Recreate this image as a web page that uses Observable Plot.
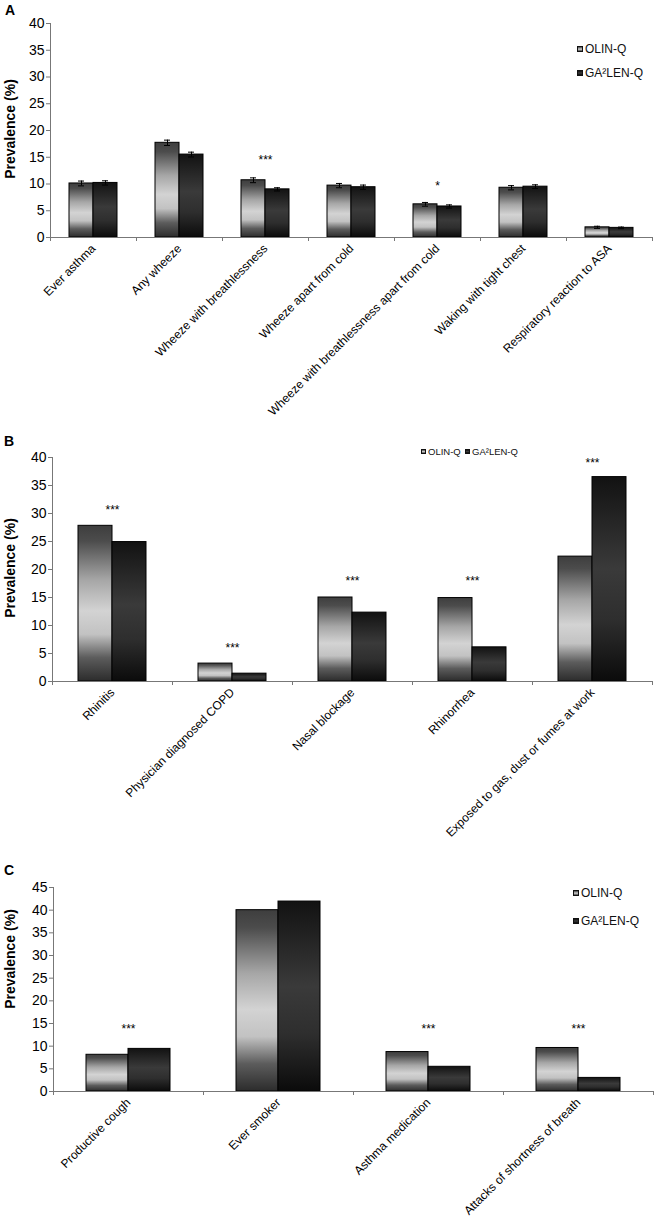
<!DOCTYPE html>
<html>
<head>
<meta charset="utf-8">
<script src="https://cdn.jsdelivr.net/npm/d3@7"></script>
<script src="https://cdn.jsdelivr.net/npm/@observablehq/plot@0.6"></script>
<style>
  html, body { margin: 0; padding: 0; background: #fff; }
  body { font-family: "Liberation Sans", Arial, sans-serif; }
  #page { position: relative; width: 654px; height: 1224px; overflow: hidden; }
  .panel { position: absolute; left: 0; }
  .letter { position: absolute; font-weight: bold; font-size: 14px; line-height: 1; }
  .ylab { position: absolute; font-weight: bold; font-size: 14px; line-height: 1; white-space: nowrap;
          transform: translate(-50%, -50%) rotate(-90deg); }
  .leg { position: absolute; line-height: 1; white-space: nowrap; display: flex; align-items: center; color: #111; }
  .sw { display: inline-block; border: 1px solid #111; box-sizing: border-box; margin-right: 2px; }
  .sw.o { background: linear-gradient(#444, #d0d0d0 55%, #444); }
  .sw.g { background: linear-gradient(#111, #3a3a3a 50%, #0b0b0b); }
</style>
</head>
<body>
<svg width="0" height="0" style="position:absolute">
  <defs>
    <linearGradient id="gOlin" x1="0" y1="0" x2="0" y2="1">
      <stop offset="0" stop-color="#3e3e3e"/>
      <stop offset="0.1" stop-color="#4c4c4c"/>
      <stop offset="0.35" stop-color="#a6a6a6"/>
      <stop offset="0.55" stop-color="#d3d3d3"/>
      <stop offset="0.7" stop-color="#c2c2c2"/>
      <stop offset="0.85" stop-color="#5c5c5c"/>
      <stop offset="1" stop-color="#2c2c2c"/>
    </linearGradient>
    <linearGradient id="gGa" x1="0" y1="0" x2="0" y2="1">
      <stop offset="0" stop-color="#121212"/>
      <stop offset="0.45" stop-color="#3a3a3a"/>
      <stop offset="0.7" stop-color="#2e2e2e"/>
      <stop offset="1" stop-color="#0b0b0b"/>
    </linearGradient>
  </defs>
</svg>
<div id="page"></div>
<script>
// ---------- data ----------
const series = ["OLIN-Q", "GA²LEN-Q"];

const catsA = ["Ever asthma", "Any wheeze", "Wheeze with breathlessness", "Wheeze apart from cold",
  "Wheeze with breathlessness apart from cold", "Waking with tight chest", "Respiratory reaction to ASA"];
const olinA = [10.1, 17.7, 10.7, 9.7, 6.2, 9.3, 1.9];
const gaA   = [10.2, 15.5, 9.0, 9.4, 5.8, 9.5, 1.8];
const errOlinA = [0.45, 0.5, 0.45, 0.4, 0.35, 0.4, 0.2];
const errGaA   = [0.4, 0.45, 0.3, 0.4, 0.3, 0.35, 0.15];
const starsA = [
  {cat: "Wheeze with breathlessness", label: "***", y: 15.0},
  {cat: "Wheeze with breathlessness apart from cold", label: "*", y: 10.1}
];

const catsB = ["Rhinitis", "Physician diagnosed COPD", "Nasal blockage", "Rhinorrhea",
  "Exposed to gas, dust or fumes at work"];
const olinB = [27.8, 3.2, 15.0, 14.9, 22.3];
const gaB   = [24.9, 1.4, 12.3, 6.1, 36.5];
const starsB = [
  {cat: "Rhinitis", label: "***", y: 31.1},
  {cat: "Physician diagnosed COPD", label: "***", y: 6.5},
  {cat: "Nasal blockage", label: "***", y: 18.4},
  {cat: "Rhinorrhea", label: "***", y: 18.4},
  {cat: "Exposed to gas, dust or fumes at work", label: "***", y: 39.6}
];

const catsC = ["Productive cough", "Ever smoker", "Asthma medication", "Attacks of shortness of breath"];
const olinC = [8.1, 40.0, 8.7, 9.6];
const gaC   = [9.4, 41.9, 5.45, 3.0];
const starsC = [
  {cat: "Productive cough", label: "***", y: 14.4},
  {cat: "Asthma medication", label: "***", y: 14.4},
  {cat: "Attacks of shortness of breath", label: "***", y: 14.4}
];

// ---------- drawing ----------
const page = document.getElementById("page");
const FONT = "Liberation Sans, Arial, sans-serif";

function panel(opts) {
  const {cats, olin, ga, errOlin, errGa, stars, yMax, top, height, mt, mb, ml, mr} = opts;
  const rows = cats.flatMap((c, i) => [
    {cat: c, series: series[0], value: olin[i], err: errOlin ? errOlin[i] : null},
    {cat: c, series: series[1], value: ga[i], err: errGa ? errGa[i] : null}
  ]);
  const width = 654;
  const step = (width - ml - mr) / cats.length;
  const marks = [
    Plot.barY(rows, {fx: "cat", x: "series", y: "value", fill: "series", stroke: "#000", strokeWidth: 1})
  ];
  if (errOlin) {
    marks.push(
      Plot.ruleX(rows, {fx: "cat", x: "series", y1: d => d.value - d.err, y2: d => d.value + d.err, stroke: "#000", strokeWidth: 1}),
      Plot.tickY(rows, {fx: "cat", x: "series", y: d => d.value - d.err, insetLeft: 9, insetRight: 9, stroke: "#000"}),
      Plot.tickY(rows, {fx: "cat", x: "series", y: d => d.value + d.err, insetLeft: 9, insetRight: 9, stroke: "#000"})
    );
  }
  marks.push(
    Plot.text(stars, {fx: "cat", y: "y", text: "label", fontSize: 12, lineAnchor: "middle", dy: 3, fill: "#000"}),
    Plot.ruleY([0], {stroke: "#777"}),
    Plot.frame({anchor: "left", facetAnchor: "left", stroke: "#777"}),
    Plot.axisY({ticks: d3.range(0, yMax + 1, 5), tickSize: 4, tickPadding: 2, fontSize: 14, label: null, stroke: "#777"}),
    Plot.axisFx({anchor: "bottom", tickSize: 0, tickPadding: 9, tickRotate: -45, fontSize: 12, label: null}),
    Plot.axisFx({anchor: "bottom", tickSize: 4, tickFormat: () => "", label: null, dx: -step / 2, stroke: "#777"}),
    Plot.axisFx({anchor: "bottom", ticks: [cats[cats.length - 1]], tickSize: 4, tickFormat: () => "", label: null, dx: step / 2, stroke: "#777"})
  );
  const svg = Plot.plot({
    width, height,
    marginTop: mt, marginBottom: mb, marginLeft: ml, marginRight: mr,
    style: {fontFamily: FONT, fontSize: "11px", background: "transparent", overflow: "visible", color: "#000"},
    fx: {domain: cats, padding: 0, label: null},
    x: {domain: series, paddingInner: 0, paddingOuter: 0.75, axis: null},
    y: {domain: [0, yMax], axis: null},
    color: {domain: series, range: ["url(#gOlin)", "url(#gGa)"]},
    marks
  });
  const div = document.createElement("div");
  div.className = "panel";
  div.style.top = top + "px";
  div.appendChild(svg);
  page.appendChild(div);
}

function addText(cls, text, css) {
  const d = document.createElement("div");
  d.className = cls;
  d.textContent = text;
  Object.assign(d.style, css);
  page.appendChild(d);
  return d;
}
function addLegend(items, css, fontSize, sw, gap, vertical, vgap) {
  items.forEach((it, i) => {
    const d = document.createElement("div");
    d.className = "leg";
    d.style.fontSize = fontSize + "px";
    const s = document.createElement("span");
    s.className = "sw " + (i === 0 ? "o" : "g");
    s.style.width = sw + "px"; s.style.height = sw + "px";
    const t = document.createElement("span");
    t.textContent = it;
    d.appendChild(s); d.appendChild(t);
    d.style.left = (css.left + (vertical ? 0 : gap[i])) + "px";
    d.style.top = (css.top + (vertical ? i * vgap : 0)) + "px";
    page.appendChild(d);
  });
}

panel({cats: catsA, olin: olinA, ga: gaA, errOlin: errOlinA, errGa: errGaA, stars: starsA,
  yMax: 40, top: 0, height: 420, mt: 23, mb: 183, ml: 50, mr: 2});
panel({cats: catsB, olin: olinB, ga: gaB, stars: starsB,
  yMax: 40, top: 440, height: 400, mt: 17, mb: 159, ml: 52, mr: 2});
panel({cats: catsC, olin: olinC, ga: gaC, stars: starsC,
  yMax: 45, top: 860, height: 364, mt: 27, mb: 133, ml: 53, mr: 1});

addText("letter", "A", {left: "5px", top: "3px"});
addText("letter", "B", {left: "4px", top: "434px"});
addText("letter", "C", {left: "4px", top: "863px"});
addText("ylab", "Prevalence (%)", {left: "10px", top: "129px"});
addText("ylab", "Prevalence (%)", {left: "10px", top: "568px"});
addText("ylab", "Prevalence (%)", {left: "10px", top: "959px"});

addLegend(series, {left: 577, top: 43}, 12, 6, null, true, 24);
addLegend(series, {left: 421, top: 447}, 9.5, 5, [0, 44], false, 0);
addLegend(series, {left: 573, top: 887}, 12, 6, null, true, 27.5);
</script>
</body>
</html>
